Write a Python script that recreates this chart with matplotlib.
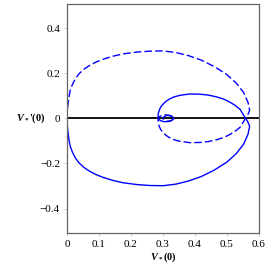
import matplotlib
matplotlib.use('Agg')
import matplotlib.pyplot as plt
import numpy as np

plt.rcParams['font.family'] = ['Liberation Serif', 'DejaVu Serif']
plt.rcParams['mathtext.fontset'] = 'custom'
plt.rcParams['mathtext.it'] = 'Liberation Serif:bold:italic'
plt.rcParams['mathtext.rm'] = 'Liberation Serif:bold'
plt.rcParams['mathtext.bf'] = 'Liberation Serif:bold'

# spiral V*(0), V*'(0) (solid branch); dashed branch is its mirror
vx = [0.000, 0.001, 0.003, 0.006, 0.010, 0.017, 0.026, 0.038, 0.053, 0.070,
      0.090, 0.113, 0.145, 0.176, 0.220, 0.260, 0.300, 0.340, 0.380, 0.420,
      0.460, 0.500, 0.530, 0.552, 0.566, 0.571, 0.565, 0.556, 0.541, 0.525,
      0.509, 0.490, 0.468, 0.442, 0.416, 0.384, 0.353, 0.335, 0.322, 0.310,
      0.301, 0.293, 0.288, 0.285, 0.285, 0.288, 0.295, 0.305, 0.317, 0.327,
      0.332, 0.331, 0.324, 0.313, 0.304, 0.300]
vy = [0.000, -0.030, -0.060, -0.092, -0.123, -0.150, -0.175, -0.198, -0.218, -0.234,
      -0.249, -0.262, -0.276, -0.286, -0.294, -0.298, -0.299, -0.292, -0.278, -0.258,
      -0.230, -0.194, -0.155, -0.115, -0.070, -0.035, -0.015, 0.005, 0.040, 0.058,
      0.072, 0.085, 0.095, 0.103, 0.107, 0.108, 0.102, 0.095, 0.087, 0.076,
      0.064, 0.050, 0.034, 0.018, 0.004, -0.006, -0.012, -0.015, -0.014, -0.009,
      -0.002, 0.006, 0.012, 0.013, 0.008, 0.002]
xticks = [0, 0.1, 0.2, 0.3, 0.4, 0.5, 0.6]
yticks = [-0.4, -0.2, 0, 0.2, 0.4]
xtl = ['0', '0.1', '0.2', '0.3', '0.4', '0.5', '0.6']
ytl = ['\u22120.4', '\u22120.2', '0', '0.2', '0.4']

fig = plt.figure(figsize=(2.7, 2.68), dpi=100)
ax = fig.add_axes([0.248, 0.132, 0.711, 0.853])

ax.axhline(0, color='black', lw=1.3, zorder=1)
ax.plot(vx, vy, color='#0000ff', lw=1.0, zorder=2)
ax.plot(vx, -np.array(vy), color='#0000ff', lw=1.0, dashes=(5.5, 2.2), zorder=2)

ax.set_xlim(0, 0.6)
ax.set_ylim(-0.507, 0.507)
ax.set_xticks(xticks)
ax.set_xticklabels(xtl)
ax.set_yticks(yticks)
ax.set_yticklabels(ytl)
ax.tick_params(labelsize=8, length=2, width=0.5, color='#bbbbbb', pad=3)
for s in ax.spines.values():
    s.set_color('#666666')
    s.set_linewidth(0.9)

ax.set_xlabel(r"$V_*$(0)", fontsize=7.5, fontweight='bold', labelpad=1.5)
ax.text(-0.11, 0, r"$V_*$'(0)", fontsize=7.5, fontweight='bold', ha='right', va='center',
        transform=ax.get_yaxis_transform())

fig.savefig('out.png', dpi=100)
